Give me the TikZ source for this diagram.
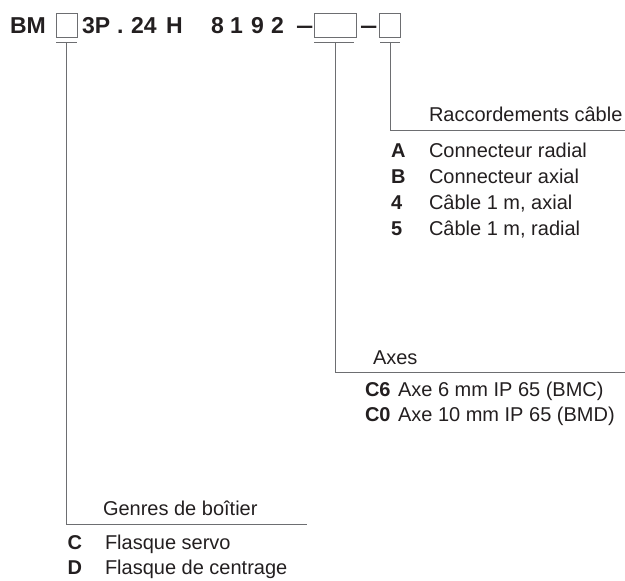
\documentclass[tikz,border=0pt]{standalone}
\usepackage{fontspec}
\setmainfont{Liberation Sans}
\definecolor{txt}{HTML}{231F20}
\definecolor{ln}{HTML}{6D6E71}
\begin{document}
\begin{tikzpicture}[x=1pt,y=-1pt,
  every node/.style={inner sep=0pt, outer sep=0pt, anchor=base west, text=txt},
  hdr/.style={font=\fontsize{23}{23}\selectfont\bfseries},
  body/.style={font=\fontsize{20}{20}\selectfont},
  key/.style={font=\fontsize{20}{20}\selectfont\bfseries},
  slot/.style={draw=ln, line width=1pt, minimum height=24.4pt, anchor=north west},
  lead/.style={draw=ln, line width=1pt}]
\useasboundingbox (0,0) rectangle (625,581);
% header
\node[hdr] (bm) at (10,33.3) {BM};
\node[slot, minimum width=21pt] (s1) at (56,13.3) {};
\node[hdr] (p3) at (82,33.3) {3P};
\node[hdr] (dot) at (117,33.3) {.};
\node[hdr] (p24) at (131,33.3) {24};
\node[hdr] (ph) at (166,33.3) {H};
\node[hdr] (d8) at (211,33.3) {8};
\node[hdr] (d1) at (230,33.3) {1};
\node[hdr] (d9) at (251,33.3) {9};
\node[hdr] (d2) at (271,33.3) {2};
\node[hdr] (da1) at (296,33.3) {\scalebox{1.35}[1]{–}};
\node[slot, minimum width=42pt] (s2) at (314,13.3) {};
\node[hdr] (da2) at (360,33.3) {\scalebox{1.35}[1]{–}};
\node[slot, minimum width=21pt] (s3) at (379,13.3) {};
% underlines and leads
\coordinate (u1a) at (56,42.7); \coordinate (u1b) at (77,42.7);
\coordinate (u2a) at (314,42.7); \coordinate (u2b) at (354,42.7);
\coordinate (u3a) at (380,42.7); \coordinate (u3b) at (400,42.7);
\draw[lead] (u1a) -- (u1b);
\draw[lead] (u2a) -- (u2b);
\draw[lead] (u3a) -- (u3b);
\coordinate (t1) at (66.7,42.7); \coordinate (k1) at (66.7,524); \coordinate (e1) at (306.7,524);
\coordinate (t2) at (335,42.7); \coordinate (k2) at (335,372); \coordinate (e2) at (625,372);
\coordinate (t3) at (390,42.7); \coordinate (k3) at (390,130); \coordinate (e3) at (625,130);
\draw[lead] (t1) -- (k1) -- (e1);
\draw[lead] (t2) -- (k2) -- (e2);
\draw[lead] (t3) -- (k3) -- (e3);
% Raccordements
\node[body] (rt) at (429,121) {Raccordements câble};
\node[key] (ka) at (391,157) {A};  \node[body] (la) at (429,157) {Connecteur radial};
\node[key] (kb) at (391,183) {B};  \node[body] (lb) at (429,183) {Connecteur axial};
\node[key] (k4) at (391,209) {4};  \node[body] (l4) at (429,209) {Câble 1 m, axial};
\node[key] (k5) at (391,235) {5};  \node[body] (l5) at (429,235) {Câble 1 m, radial};
% Axes
\node[body] (at) at (373,364) {Axes};
\node[key] (kc6) at (365,396) {C6}; \node[body] (lc6) at (398,396) {Axe 6 mm IP 65 (BMC)};
\node[key] (kc0) at (365,421) {C0}; \node[body] (lc0) at (398,421) {Axe 10 mm IP 65 (BMD)};
% Genres
\node[body] (gt) at (103,515) {Genres de boîtier};
\node[key] (kc) at (67.7,549) {C}; \node[body] (lc) at (105,549) {Flasque servo};
\node[key] (kd) at (67.7,574) {D}; \node[body] (ld) at (105,574) {Flasque de centrage};
\end{tikzpicture}
\end{document}
